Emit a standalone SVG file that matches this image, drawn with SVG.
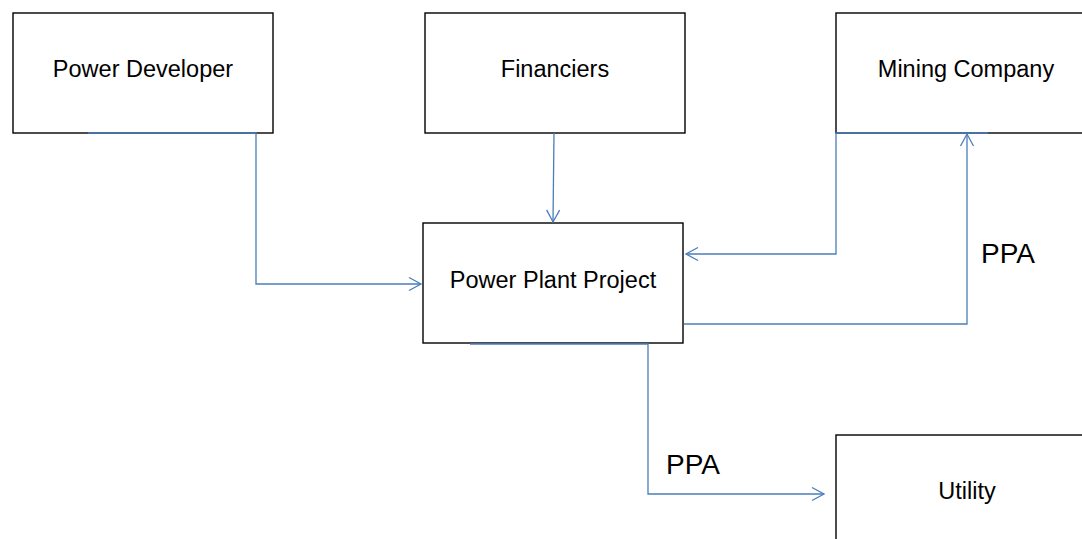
<svg xmlns="http://www.w3.org/2000/svg" width="1082" height="539" viewBox="0 0 1082 539">
<style>
.box{fill:#fff;stroke:#000;stroke-width:1.4}
.lbl{font-family:"Liberation Sans",Arial,sans-serif;font-size:23.5px;fill:#000;text-anchor:middle}
.ppa{font-family:"Liberation Sans",Arial,sans-serif;font-size:28px;fill:#000}
.con{fill:none;stroke:#4a7ebb;stroke-width:1.3}
</style>
<defs>
<marker id="arr" markerUnits="userSpaceOnUse" viewBox="-14 -8 16 16" refX="0" refY="0" markerWidth="16" markerHeight="16" orient="auto" overflow="visible">
<path d="M-12,-6.5 L0,0 L-12,6.5" fill="none" stroke="#4a7ebb" stroke-width="1.3"/>
</marker>
</defs>
<rect width="1082" height="539" fill="#fff"/>
<g id="power-developer"><rect class="box" x="13" y="13" width="260" height="120"/><text class="lbl" x="143" y="77">Power Developer</text></g>
<g id="financiers"><rect class="box" x="425" y="13" width="260" height="120"/><text class="lbl" x="555" y="77">Financiers</text></g>
<g id="mining-company"><rect class="box" x="836" y="13" width="260" height="120"/><text class="lbl" x="966" y="77">Mining Company</text></g>
<g id="power-plant-project"><rect class="box" x="423" y="223" width="260" height="120"/><text class="lbl" x="553" y="288">Power Plant Project</text></g>
<g id="utility"><rect class="box" x="836" y="435" width="260" height="120"/><text class="lbl" x="967" y="499">Utility</text></g>
<g id="connectors">
<path class="con" d="M88,133 H256 V284 H421" marker-end="url(#arr)"/>
<path class="con" d="M554,133 L553,222" marker-end="url(#arr)"/>
<path class="con" d="M988,133 H836 V254 H686" marker-end="url(#arr)"/>
<path class="con" d="M684,324 H967 V134" marker-end="url(#arr)"/>
<path class="con" d="M470,344 H648 V494 H824" marker-end="url(#arr)"/>
</g>
<text class="ppa" x="981" y="263">PPA</text>
<text class="ppa" x="666" y="474">PPA</text>
</svg>
